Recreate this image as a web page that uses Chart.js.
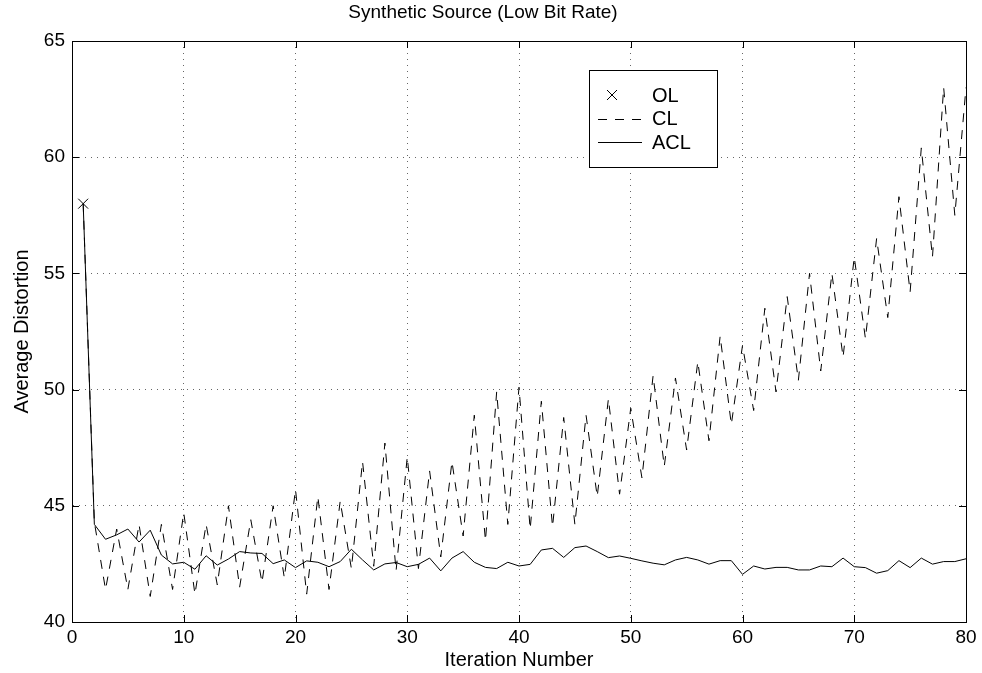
<!DOCTYPE html>
<html>
<head>
<meta charset="utf-8">
<title>Synthetic Source (Low Bit Rate)</title>
<script src="https://cdn.jsdelivr.net/npm/chart.js@4.4.0/dist/chart.umd.min.js"></script>
<style>
  html, body { margin: 0; padding: 0; background: #fff; }
</style>
</head>
<body>
<canvas id="myChart" width="982" height="673"></canvas>
<script>
let iterations = [1, 2, 3, 4, 5, 6, 7, 8, 9, 10, 11, 12, 13, 14, 15, 16, 17, 18, 19, 20,
  21, 22, 23, 24, 25, 26, 27, 28, 29, 30, 31, 32, 33, 34, 35, 36, 37, 38, 39, 40,
  41, 42, 43, 44, 45, 46, 47, 48, 49, 50, 51, 52, 53, 54, 55, 56, 57, 58, 59, 60,
  61, 62, 63, 64, 65, 66, 67, 68, 69, 70, 71, 72, 73, 74, 75, 76, 77, 78, 79, 80];

let clValues = [58.0, 44.3, 41.4, 44.0, 41.4, 44.2, 41.1, 44.2, 41.4, 44.7,
  41.2, 44.2, 41.6, 45.0, 41.5, 44.4, 41.7, 45.0, 41.9, 45.7,
  41.2, 45.4, 41.4, 45.2, 42.3, 46.9, 42.4, 47.7, 42.2, 47.1,
  42.3, 46.5, 42.8, 46.9, 43.7, 48.9, 43.5, 49.9, 44.2, 50.1,
  44.0, 49.5, 44.1, 48.8, 44.2, 48.9, 45.4, 49.6, 45.5, 49.2,
  46.2, 50.6, 46.7, 50.5, 47.4, 51.2, 47.8, 52.3, 48.5, 51.9,
  49.1, 53.5, 49.9, 54.0, 50.4, 55.0, 50.8, 55.0, 51.4, 55.7,
  52.2, 56.5, 53.1, 58.3, 54.2, 60.4, 55.7, 63.0, 57.5, 63.0];

let aclValues = [58.0, 44.2, 43.56, 43.75, 44.0, 43.44, 43.95, 42.88, 42.5, 42.57,
  42.27, 42.85, 42.45, 42.71, 43.03, 42.97, 42.95, 42.51, 42.67, 42.34,
  42.63, 42.57, 42.38, 42.6, 43.13, 42.67, 42.24, 42.5, 42.56, 42.38,
  42.48, 42.75, 42.2, 42.75, 43.03, 42.57, 42.35, 42.3, 42.57, 42.41,
  42.48, 43.1, 43.17, 42.78, 43.2, 43.27, 43.03, 42.77, 42.84, 42.74,
  42.63, 42.53, 42.46, 42.67, 42.78, 42.67, 42.49, 42.64, 42.64, 42.05,
  42.41, 42.28, 42.35, 42.35, 42.24, 42.24, 42.41, 42.38, 42.75, 42.38,
  42.34, 42.1, 42.21, 42.64, 42.34, 42.75, 42.49, 42.6, 42.6, 42.72];

let olIterations = [1];
let olValues = [58.0];

let xTicks = [0, 10, 20, 30, 40, 50, 60, 70, 80];
let yTicks = [40, 45, 50, 55, 60, 65];

const fontFamily = "'Liberation Sans', Arial, Helvetica, sans-serif";

function points(xs, ys) {
  return xs.map((x, i) => ({ x: x, y: ys[i] }));
}

// matlab style box round the axes with inward tick marks
const axesBox = {
  id: 'axesBox',
  afterDatasetsDraw(chart) {
    const ctx = chart.ctx;
    const a = chart.chartArea;
    const xs = chart.scales.x, ys = chart.scales.y;
    const len = 7;
    ctx.save();
    ctx.strokeStyle = '#000';
    ctx.lineWidth = 1;
    ctx.setLineDash([]);
    ctx.strokeRect(Math.round(a.left) + 0.5, Math.round(a.top) + 0.5,
      Math.round(a.right - a.left), Math.round(a.bottom - a.top));
    ctx.beginPath();
    xTicks.forEach(v => {
      const px = Math.round(xs.getPixelForValue(v)) + 0.5;
      ctx.moveTo(px, a.bottom); ctx.lineTo(px, a.bottom - len);
      ctx.moveTo(px, a.top); ctx.lineTo(px, a.top + len);
    });
    yTicks.forEach(v => {
      const py = Math.round(ys.getPixelForValue(v)) + 0.5;
      ctx.moveTo(a.left, py); ctx.lineTo(a.left + len, py);
      ctx.moveTo(a.right, py); ctx.lineTo(a.right - len, py);
    });
    ctx.stroke();
    ctx.restore();
  }
};

// legend box inside the plot, upper right
const boxLegend = {
  id: 'boxLegend',
  afterDraw(chart) {
    const ctx = chart.ctx;
    const bx = 589, by = 70, bw = 128, bh = 97;
    ctx.save();
    ctx.fillStyle = '#fff';
    ctx.fillRect(bx, by, bw, bh);
    ctx.strokeStyle = '#000';
    ctx.lineWidth = 1;
    ctx.strokeRect(bx + 0.5, by + 0.5, bw, bh);
    ctx.font = '20px ' + fontFamily;
    ctx.fillStyle = '#000';
    ctx.textBaseline = 'middle';
    chart.data.datasets.forEach((ds, i) => {
      const ry = by + 25 + i * 23.5;
      ctx.beginPath();
      if (ds.showLine === false) {
        const r = 5;
        ctx.setLineDash([]);
        ctx.moveTo(bx + 23 - r, ry - r); ctx.lineTo(bx + 23 + r, ry + r);
        ctx.moveTo(bx + 23 - r, ry + r); ctx.lineTo(bx + 23 + r, ry - r);
      } else {
        ctx.setLineDash(ds.borderDash || []);
        ctx.moveTo(bx + 9, Math.round(ry) + 0.5);
        ctx.lineTo(bx + 53, Math.round(ry) + 0.5);
      }
      ctx.stroke();
      ctx.setLineDash([]);
      ctx.fillText(ds.label, bx + 63, ry + 1);
    });
    ctx.restore();
  }
};

let ctx = document.getElementById('myChart').getContext('2d');

let chart = new Chart(ctx, {
  type: 'line',
  data: {
    datasets: [
      {
        label: 'OL',
        data: points(olIterations, olValues),
        showLine: false,
        pointStyle: 'crossRot',
        pointRadius: 7,
        borderColor: '#000',
        borderWidth: 1
      },
      {
        label: 'CL',
        data: points(iterations, clValues),
        borderColor: '#000',
        borderWidth: 1,
        borderDash: [9, 8],
        pointRadius: 0,
        tension: 0,
        fill: false
      },
      {
        label: 'ACL',
        data: points(iterations, aclValues),
        borderColor: '#000',
        borderWidth: 1,
        pointRadius: 0,
        tension: 0,
        fill: false
      }
    ]
  },
  options: {
    responsive: false,
    animation: false,
    layout: { padding: { left: 0, right: 16, top: 0, bottom: 0 } },
    plugins: {
      legend: { display: false },
      tooltip: { enabled: false },
      title: {
        display: true,
        text: 'Synthetic Source (Low Bit Rate)',
        color: '#000',
        font: { family: fontFamily, size: 19, weight: 'normal' },
        padding: { top: 1, bottom: 17.2 }
      }
    },
    scales: {
      x: {
        type: 'linear',
        min: 0,
        max: 80,
        afterBuildTicks: s => { s.ticks = xTicks.map(v => ({ value: v })); },
        afterFit: s => { s.height = 51; },
        grid: { color: '#666', lineWidth: 1, drawTicks: false },
        border: { display: true, color: '#000', dash: [1, 5] },
        ticks: { color: '#000', padding: 4.6, maxRotation: 0, autoSkip: false,
          font: { family: fontFamily, size: 19 } },
        title: {
          display: true,
          text: 'Iteration Number',
          color: '#000',
          font: { family: fontFamily, size: 20 },
          padding: { top: 0, bottom: 0.5 }
        }
      },
      y: {
        type: 'linear',
        min: 40,
        max: 65,
        afterBuildTicks: s => { s.ticks = yTicks.map(v => ({ value: v })); },
        afterFit: s => { s.width = 72; },
        grid: { color: '#666', lineWidth: 1, drawTicks: false },
        border: { display: true, color: '#000', dash: [1, 5] },
        ticks: { color: '#000', padding: 7, font: { family: fontFamily, size: 19 } },
        title: {
          display: true,
          text: 'Average Distortion',
          color: '#000',
          font: { family: fontFamily, size: 20 },
          padding: { top: 10, bottom: 0 }
        }
      }
    }
  },
  plugins: [axesBox, boxLegend]
});
</script>
</body>
</html>
